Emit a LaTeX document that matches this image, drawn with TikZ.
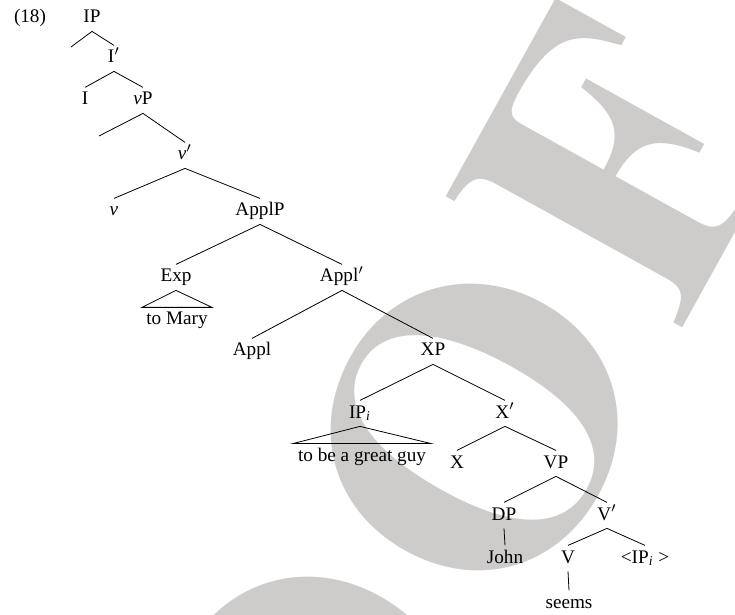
\documentclass[tikz,border=0pt]{standalone}
\usepackage{fontspec}
\setmainfont{Liberation Serif}
\usepackage{tikz}

\definecolor{proofgray}{RGB}{206,203,203}
\tikzset{
  lab/.style={anchor=base, inner sep=2pt, text height=6.6pt, text depth=2pt},
}
\newcommand{\stampfont}{\usefont{OT1}{ptm}{b}{n}\fontsize{200}{200}\selectfont}

\begin{document}
\begin{tikzpicture}[x=0.5pt,y=-0.5pt,font=\fontsize{9.6}{11.5}\selectfont]
        \useasboundingbox (0,0) rectangle (735,615);
        \begin{scope}
        \clip (0,0) rectangle (735,615);
        \node [anchor=base, rotate=61, inner sep=0pt, text=proofgray, font=\stampfont]
              (stamp) at (435,775) {P\kern12pt R\kern12pt O\kern12pt O\kern13pt F};
        \end{scope}

        \node [lab] (num) at (30,23) {(18)};
        \node [lab] (ip) at (92,23) {IP};
        \coordinate (e1) at (71,47);
        \node [lab] (ibar) at (114,63) {I$'$};
        \node [lab] (i) at (85,105) {I};
        \node [lab] (vp) at (143,105) {\textit{v}P};
        \coordinate (e2) at (99,136);
        \node [lab] (vbar) at (185,160) {\textit{v}$'$};
        \node [lab] (v) at (114,216) {\textit{v}};
        \node [lab] (applp) at (260,216) {ApplP};
        \node [lab] (exp) at (176,282) {Exp};
        \node [lab] (applbar) at (342,282) {Appl$'$};
        \node [lab] (tomary) at (177,325) {to Mary};
        \node [lab] (appl) at (252,356) {Appl};
        \node [lab] (xp) at (433,356) {XP};
        \node [lab] (ipi) at (360,418) {IP\textsubscript{\textit{i}}};
        \node [lab] (xbar) at (505,418) {X$'$};
        \node [lab] (guy) at (362,461) {to be a great guy};
        \node [lab] (x) at (457,468) {X};
        \node [lab] (vp2) at (556,468) {VP};
        \node [lab] (dp) at (504,520) {DP};
        \node [lab] (vbar2) at (607,520) {V$'$};
        \node [lab] (john) at (505,563) {John};
        \node [lab] (verb) at (568,563) {V};
        \node [lab] (trace) at (645,563) {<IP\textsubscript{\textit{i}} >};
        \node [lab] (seems) at (569,608) {seems};

        \draw [-] (ip.south) -- (e1);
        \draw [-] (ip.south) -- (ibar.north);
        \draw [-] (ibar.south) -- (i.north);
        \draw [-] (ibar.south) -- (vp.north);
        \draw [-] (vp.south) -- (e2);
        \draw [-] (vp.south) -- (vbar.north);
        \draw [-] (vbar.south) -- (v.north);
        \draw [-] (vbar.south) -- (applp.north);
        \draw [-] (applp.south) -- (exp.north);
        \draw [-] (applp.south) -- (applbar.north);
        \draw [-] (exp.south) -- (tomary.north west) -- (tomary.north east) -- cycle;
        \draw [-] (applbar.south) -- (appl.north);
        \draw [-] (applbar.south) -- (xp.north);
        \draw [-] (xp.south) -- (ipi.north);
        \draw [-] (xp.south) -- (xbar.north);
        \draw [-] (ipi.south) -- (guy.north west) -- (guy.north east) -- cycle;
        \draw [-] (xbar.south) -- (x.north);
        \draw [-] (xbar.south) -- (vp2.north);
        \draw [-] (vp2.south) -- (dp.north);
        \draw [-] (vp2.south) -- (vbar2.north);
        \draw [-] (dp.south) -- (john.north);
        \draw [-] (vbar2.south) -- (verb.north);
        \draw [-] (vbar2.south) -- (trace.north);
        \draw [-] (verb.south) -- (seems.north);
\end{tikzpicture}
\end{document}
